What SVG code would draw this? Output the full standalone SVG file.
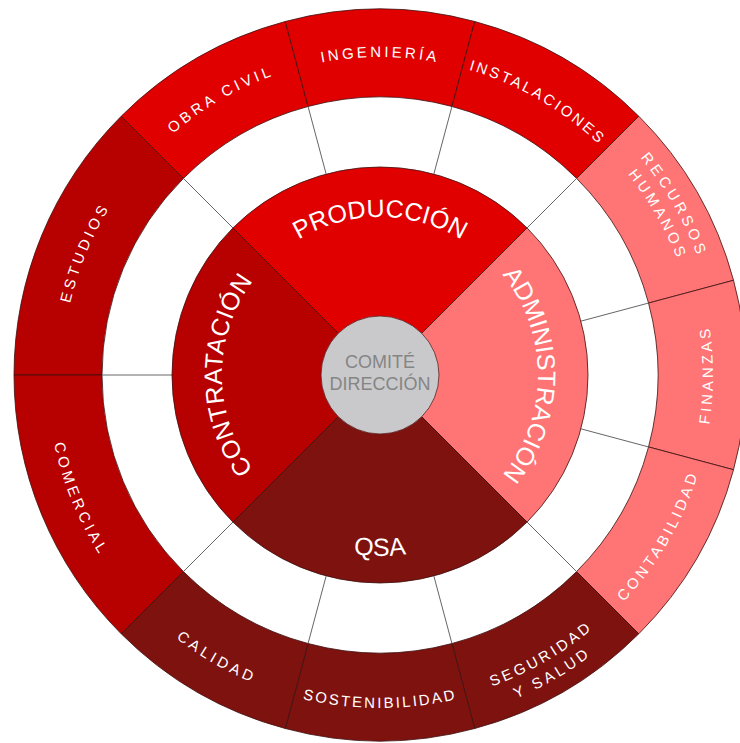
<svg xmlns="http://www.w3.org/2000/svg" width="740" height="743" viewBox="0 0 740 743">
<style>
.seg{stroke:#3c1010;stroke-width:0.8}
.red{fill:#E10000}
.dred{fill:#B70000}
.maroon{fill:#7E120F}
.pink{fill:#FF7474}
.lbl{font-family:"Liberation Sans",Arial,sans-serif;fill:#FFFFFF}
.big{font-size:25px}
.small{font-size:15px;letter-spacing:3.3px}
.conn{stroke:#666666;stroke-width:1;fill:none}
.ctr{font-family:"Liberation Sans",Arial,sans-serif;font-size:18px;fill:#858585}
</style>
<defs>
<path id="pProd" d="M243.17,296 A158,158 0 0 1 516.83,296"/>
<path id="pAdm" d="M459,238.17 A158,158 0 0 1 459,511.83"/>
<path id="pCon" d="M301,511.83 A158,158 0 0 1 301,238.17"/>
<path id="pQsa" d="M223.25,465.5 A181,181 0 0 0 536.75,465.5"/>
<path id="pEst" d="M69.54,443.83 A318,318 0 0 1 209.14,106.80"/>
<path id="pObr" d="M91.79,240.61 A318,318 0 0 1 407.72,58.21"/>
<path id="pIng" d="M197.60,114.51 A318,318 0 0 1 562.40,114.51"/>
<path id="pIns" d="M352.28,58.21 A318,318 0 0 1 668.21,240.61"/>
<path id="pRec" d="M523.27,67.76 A339,339 0 0 1 717.71,404.55"/>
<path id="pHum" d="M514.81,85.89 A319,319 0 0 1 697.79,402.80"/>
<path id="pFin" d="M652.78,566 A333,333 0 0 0 652.78,184"/>
<path id="pCtb" d="M520.73,676.80 A333,333 0 0 0 711.73,345.98"/>
<path id="pSeg" d="M351.15,704.74 A331,331 0 0 0 679.99,514.89"/>
<path id="pSal" d="M349.41,724.66 A351,351 0 0 0 698.11,523.34"/>
<path id="pSos" d="M189,647.78 A333,333 0 0 0 571,647.78"/>
<path id="pCal" d="M78.20,515.73 A333,333 0 0 0 409.02,706.73"/>
<path id="pCom" d="M54.89,302.93 A333,333 0 0 0 201.08,655.85"/>
</defs>

<g id="estudios">
<path class="seg dred" d="M14,375 A366,366 0 0 1 121.20,116.20 L183.42,178.42 A278,278 0 0 0 102,375 Z"/>
<text class="lbl small" style="letter-spacing:3.6px"><textPath href="#pEst" startOffset="50%" text-anchor="middle">ESTUDIOS</textPath></text>
</g>
<g id="obra-civil">
<path class="seg red" d="M121.20,116.20 A366,366 0 0 1 285.27,21.47 L308.05,106.47 A278,278 0 0 0 183.42,178.42 Z"/>
<text class="lbl small" style="letter-spacing:3.5px"><textPath href="#pObr" startOffset="50%" text-anchor="middle">OBRA CIVIL</textPath></text>
</g>
<g id="ingenieria">
<path class="seg red" d="M285.27,21.47 A366,366 0 0 1 474.73,21.47 L451.95,106.47 A278,278 0 0 0 308.05,106.47 Z"/>
<text class="lbl small" style="letter-spacing:3.1px"><textPath href="#pIng" startOffset="50%" text-anchor="middle">INGENIERÍA</textPath></text>
</g>
<g id="instalaciones">
<path class="seg red" d="M474.73,21.47 A366,366 0 0 1 638.80,116.20 L576.58,178.42 A278,278 0 0 0 451.95,106.47 Z"/>
<text class="lbl small" style="letter-spacing:2.6px"><textPath href="#pIns" startOffset="50%" text-anchor="middle">INSTALACIONES</textPath></text>
</g>
<g id="recursos-humanos">
<path class="seg pink" d="M638.80,116.20 A366,366 0 0 1 733.53,280.27 L648.53,303.05 A278,278 0 0 0 576.58,178.42 Z"/>
<text class="lbl small"><textPath href="#pRec" startOffset="50%" text-anchor="middle" style="letter-spacing:4px">RECURSOS</textPath><textPath href="#pHum" startOffset="50%" text-anchor="middle" style="letter-spacing:3.4px">HUMANOS</textPath></text>
</g>
<g id="finanzas">
<path class="seg pink" d="M733.53,280.27 A366,366 0 0 1 733.53,469.73 L648.53,446.95 A278,278 0 0 0 648.53,303.05 Z"/>
<text class="lbl small" style="letter-spacing:3.2px"><textPath href="#pFin" startOffset="50%" text-anchor="middle">FINANZAS</textPath></text>
</g>
<g id="contabilidad">
<path class="seg pink" d="M733.53,469.73 A366,366 0 0 1 638.80,633.80 L576.58,571.58 A278,278 0 0 0 648.53,446.95 Z"/>
<text class="lbl small" style="letter-spacing:3.4px"><textPath href="#pCtb" startOffset="50%" text-anchor="middle">CONTABILIDAD</textPath></text>
</g>
<g id="seguridad-salud">
<path class="seg maroon" d="M638.80,633.80 A366,366 0 0 1 474.73,728.53 L451.95,643.53 A278,278 0 0 0 576.58,571.58 Z"/>
<text class="lbl small"><textPath href="#pSeg" startOffset="50%" text-anchor="middle" style="letter-spacing:3.2px">SEGURIDAD</textPath><textPath href="#pSal" startOffset="50%" text-anchor="middle" style="letter-spacing:3.4px">Y SALUD</textPath></text>
</g>
<g id="sostenibilidad">
<path class="seg maroon" d="M474.73,728.53 A366,366 0 0 1 285.27,728.53 L308.05,643.53 A278,278 0 0 0 451.95,643.53 Z"/>
<text class="lbl small" style="letter-spacing:2.3px"><textPath href="#pSos" startOffset="50%" text-anchor="middle">SOSTENIBILIDAD</textPath></text>
</g>
<g id="calidad">
<path class="seg maroon" d="M285.27,728.53 A366,366 0 0 1 121.20,633.80 L183.42,571.58 A278,278 0 0 0 308.05,643.53 Z"/>
<text class="lbl small" style="letter-spacing:3.6px"><textPath href="#pCal" startOffset="50%" text-anchor="middle">CALIDAD</textPath></text>
</g>
<g id="comercial">
<path class="seg dred" d="M121.20,633.80 A366,366 0 0 1 14,375 L102,375 A278,278 0 0 0 183.42,571.58 Z"/>
<text class="lbl small" style="letter-spacing:3.8px"><textPath href="#pCom" startOffset="50%" text-anchor="middle">COMERCIAL</textPath></text>
</g>

<g id="connectors">
<line class="conn" x1="172" y1="375" x2="102" y2="375"/>
<line class="conn" x1="232.92" y1="227.92" x2="183.42" y2="178.42"/>
<line class="conn" x1="326.17" y1="174.09" x2="308.05" y2="106.47"/>
<line class="conn" x1="433.83" y1="174.09" x2="451.95" y2="106.47"/>
<line class="conn" x1="527.08" y1="227.92" x2="576.58" y2="178.42"/>
<line class="conn" x1="580.91" y1="321.17" x2="648.53" y2="303.05"/>
<line class="conn" x1="580.91" y1="428.83" x2="648.53" y2="446.95"/>
<line class="conn" x1="527.08" y1="522.08" x2="576.58" y2="571.58"/>
<line class="conn" x1="433.83" y1="575.91" x2="451.95" y2="643.53"/>
<line class="conn" x1="326.17" y1="575.91" x2="308.05" y2="643.53"/>
<line class="conn" x1="232.92" y1="522.08" x2="183.42" y2="571.58"/>
</g>

<g id="produccion">
<path class="seg red" d="M380,375 L232.92,227.92 A208,208 0 0 1 527.08,227.92 Z"/>
<text class="lbl big"><textPath href="#pProd" startOffset="50%" text-anchor="middle">PRODUCCIÓN</textPath></text>
</g>
<g id="administracion">
<path class="seg pink" d="M380,375 L527.08,227.92 A208,208 0 0 1 527.08,522.08 Z"/>
<text class="lbl big"><textPath href="#pAdm" startOffset="50%" text-anchor="middle">ADMINISTRACIÓN</textPath></text>
</g>
<g id="qsa">
<path class="seg maroon" d="M380,375 L527.08,522.08 A208,208 0 0 1 232.92,522.08 Z"/>
<text class="lbl" style="font-size:25px"><textPath href="#pQsa" startOffset="50%" text-anchor="middle">QSA</textPath></text>
</g>
<g id="contratacion">
<path class="seg dred" d="M380,375 L232.92,522.08 A208,208 0 0 1 232.92,227.92 Z"/>
<text class="lbl big" style="letter-spacing:0.5px"><textPath href="#pCon" startOffset="50%" text-anchor="middle">CONTRATACIÓN</textPath></text>
</g>

<g id="comite-direccion">
<circle cx="380" cy="375" r="59" fill="#C9C9CB" stroke="#5a2020" stroke-width="0.8"/>
<text class="ctr" x="380" y="368" text-anchor="middle">COMITÉ</text>
<text class="ctr" x="380" y="390" text-anchor="middle">DIRECCIÓN</text>
</g>
</svg>
